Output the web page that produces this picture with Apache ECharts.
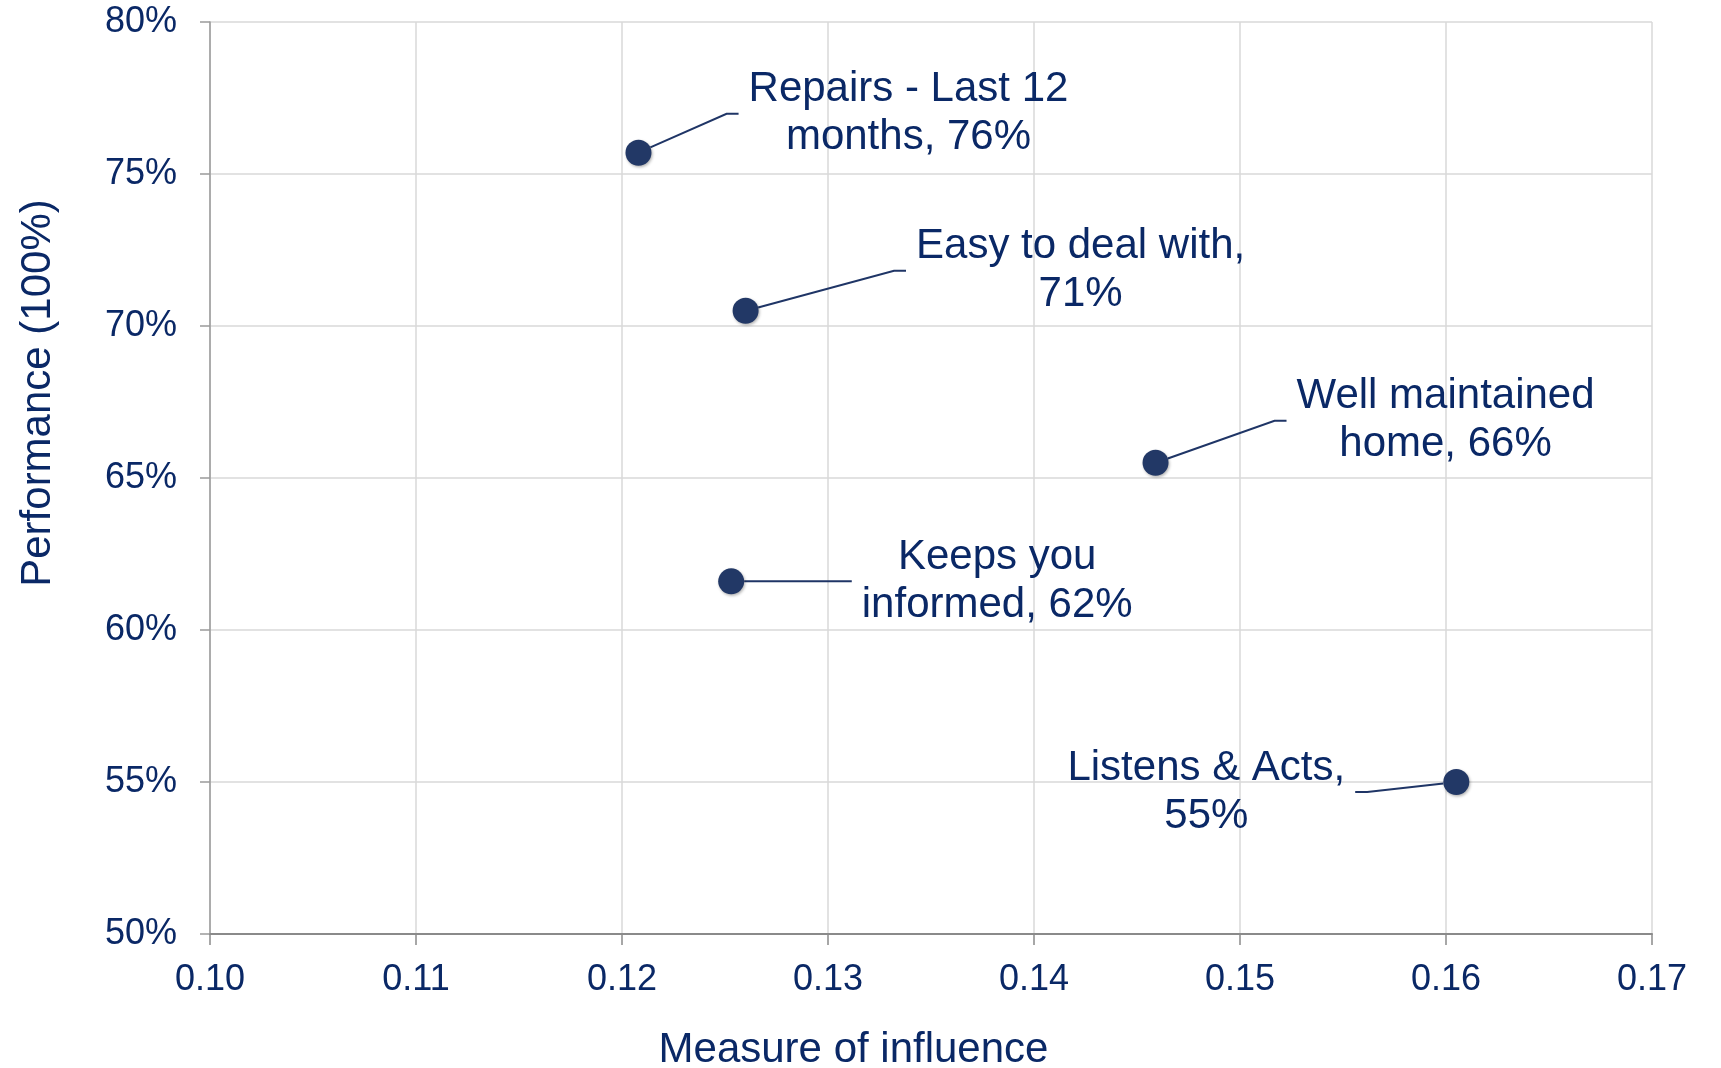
<!DOCTYPE html>
<html>
<head>
<meta charset="utf-8">
<script src="https://cdn.jsdelivr.net/npm/echarts@6/dist/echarts.min.js"></script>
<style>
  html, body { margin: 0; padding: 0; background: #ffffff; }
  #chart { width: 1721px; height: 1068px; }
</style>
</head>
<body>
<div id="chart"></div>
<script>
// Driver names; "\n" marks where the name wraps inside its label
const names = ['Repairs - Last 12\nmonths', 'Easy to deal with', 'Well maintained\nhome', 'Keeps you\ninformed', 'Listens & Acts'];
// Measure of influence (x) and performance in % (y)
const influence = [0.1208, 0.1260, 0.1459, 0.1253, 0.1605];
const performance = [75.7, 70.5, 65.5, 61.6, 55.0];
// Axis ticks
const xTicks = [0.10, 0.11, 0.12, 0.13, 0.14, 0.15, 0.16, 0.17];
const yTicks = [50, 55, 60, 65, 70, 75, 80];

// Label placement relative to each point (pixels)
const labelOffsets = [[270, -39], [335, -40], [290, -42], [266, 0], [-250, 10]];

const NAVY = '#0a2866';
const DOT = '#223866';
const FONT = 'Arial, "Liberation Sans", sans-serif';

const points = names.map((n, i) => ({ name: n, value: [influence[i], performance[i]] }));

const chart = echarts.init(document.getElementById('chart'), null, { renderer: 'canvas' });
chart.setOption({
  backgroundColor: '#ffffff',
  animation: false,
  grid: { left: 210, right: 69, top: 22, bottom: 134, outerBoundsMode: 'none' },
  xAxis: {
    type: 'value',
    min: xTicks[0],
    max: xTicks[xTicks.length - 1],
    interval: 0.01,
    name: 'Measure of influence',
    nameLocation: 'middle',
    nameGap: 95,
    nameTextStyle: { color: NAVY, fontSize: 42, fontFamily: FONT, padding: [0, 155, 0, 0] },
    axisLine: { show: true, lineStyle: { color: '#8a8a8a', width: 2 } },
    axisTick: { show: true, length: 11, lineStyle: { color: '#8a8a8a', width: 1.5 } },
    axisLabel: {
      color: NAVY, fontSize: 36, fontFamily: FONT, margin: 28,
      formatter: v => v.toFixed(2)
    },
    splitLine: { show: true, lineStyle: { color: '#d9d9d9', width: 1.5 } }
  },
  yAxis: {
    type: 'value',
    min: yTicks[0],
    max: yTicks[yTicks.length - 1],
    interval: 5,
    name: 'Performance (100%)',
    nameLocation: 'middle',
    nameGap: 151,
    nameTextStyle: { color: NAVY, fontSize: 42, fontFamily: FONT, padding: [0, 0, 0, 170] },
    axisLine: { show: true, lineStyle: { color: '#9a9a9a', width: 1.5 } },
    axisTick: { show: true, length: 10, lineStyle: { color: '#9a9a9a', width: 1.5 } },
    axisLabel: { color: NAVY, fontSize: 36, fontFamily: FONT, margin: 33, formatter: '{value}%' },
    splitLine: { show: true, lineStyle: { color: '#d9d9d9', width: 1.5 } }
  },
  series: [{
    type: 'scatter',
    data: points,
    symbol: 'circle',
    symbolSize: 26,
    itemStyle: {
      color: DOT,
      opacity: 1,
      shadowColor: 'rgba(0,0,0,0.3)', shadowBlur: 3, shadowOffsetX: 1, shadowOffsetY: 1.5
    },
    label: {
      show: true,
      color: NAVY,
      fontSize: 42,
      fontFamily: FONT,
      lineHeight: 48,
      align: 'center',
      verticalAlign: 'middle',
      padding: [2, 10],
      backgroundColor: 'rgba(255,255,255,0)',
      formatter: p => {
        const pct = Math.round(p.value[1]) + '%';
        return p.name.indexOf('\n') >= 0 ? p.name + ', ' + pct : p.name + ',\n' + pct;
      }
    },
    labelLine: {
      show: true,
      length2: 12,
      lineStyle: { color: '#1f3566', width: 2, opacity: 1 }
    },
    labelLayout: params => {
      const off = labelOffsets[params.dataIndex];
      return {
        x: params.rect.x + params.rect.width / 2 + off[0],
        y: params.rect.y + params.rect.height / 2 + off[1],
        align: 'center',
        verticalAlign: 'middle'
      };
    }
  }]
});
</script>
</body>
</html>
